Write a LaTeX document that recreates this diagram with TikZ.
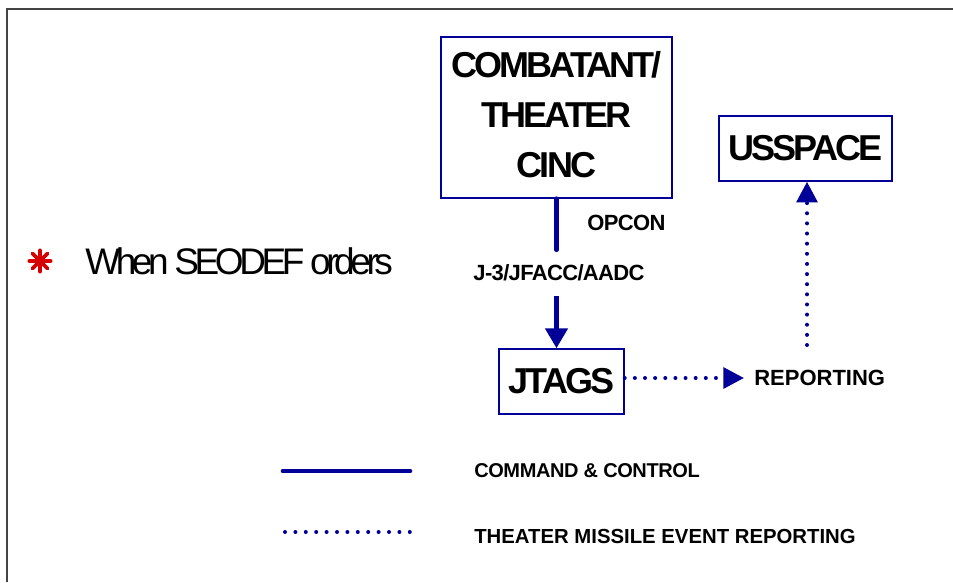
\documentclass[tikz,border=0pt]{standalone}
\usepackage{fontspec}
\setmainfont{Liberation Sans}
\newfontfamily\bigf{Liberation Sans}[LetterSpace=-8]
\newfontfamily\smallf{Liberation Sans}[LetterSpace=-3]
\newfontfamily\legf{Liberation Sans}[LetterSpace=-2]
\newfontfamily\whenf{Liberation Sans}[LetterSpace=-12]
\newfontfamily\repf{Liberation Sans}[LetterSpace=0]
\usetikzlibrary{arrows.meta,calc}
\definecolor{navy}{RGB}{0,0,153}
\definecolor{asterred}{RGB}{215,0,0}
\definecolor{framegray}{RGB}{68,68,68}
\begin{document}
\begin{tikzpicture}[x=0.75pt,y=-0.75pt,
  box/.style={draw=navy,line width=1.1pt,inner sep=0pt},
  bigtext/.style={font=\bigf\bfseries\fontsize{27pt}{37.5pt}\selectfont},
  smalltext/.style={font=\smallf\bfseries\fontsize{16.5pt}{20pt}\selectfont,inner sep=0pt},
  reptext/.style={font=\repf\bfseries\fontsize{16.5pt}{20pt}\selectfont,inner sep=0pt},
  legtext/.style={font=\legf\bfseries\fontsize{15pt}{18pt}\selectfont,inner sep=0pt,anchor=west},
  legtextb/.style={font=\repf\bfseries\fontsize{15.25pt}{18pt}\selectfont,inner sep=0pt,anchor=west},
  cmdline/.style={draw=navy,line width=3.5pt,line cap=round},
  rptline/.style={draw=navy,line width=3pt,line cap=round,dash pattern=on 0pt off 7.6pt},
  solidtip/.style={-{Triangle[length=15pt,width=16.5pt]}},
  dottip/.style={-{Triangle[length=15.5pt,width=15.5pt]}},
  framestyle/.style={draw=framegray,line width=1.5pt}
]
\useasboundingbox (0,0) rectangle (953,582);

% frame
\coordinate (ftl) at (7,9);
\coordinate (ftr) at (953,9);
\coordinate (fbl) at (7,582);
\draw[framestyle] (ftr) -- (ftl) -- (fbl);

% boxes
\node[box,bigtext,align=center,minimum width=173.25pt,minimum height=120.75pt]
  (cinc) at (556.5,117.5) {COMBATANT/\\THEATER\\CINC\rule[-4.5pt]{0pt}{0pt}};
\node[box,bigtext,minimum width=93.75pt,minimum height=48.75pt]
  (jtags) at (561.5,381.5) {JTAGS};
\node[box,bigtext,minimum width=129.75pt,minimum height=48.75pt]
  (usspace) at (805.5,148.5) {USSPACE};

% labels
\node[smalltext] (opcon) at (626.5,223) {OPCON};
\node[smalltext,text depth=0pt,minimum height=34.5pt] (j3) at (559,273) {J-3/JFACC/AADC};
\node[reptext,anchor=west] (rep) at (754,378) {REPORTING};

% command & control arrow
\draw[cmdline] (cinc.south) -- (cinc.south |- j3.north);
\draw[cmdline,solidtip,line cap=butt] (cinc.south |- j3.south) -- (cinc.south |- jtags.north);

% reporting arrows
\draw[rptline,dottip] (jtags.east |- rep.west) -- ([xshift=-7.5pt]rep.west);
\coordinate (vs) at (807,345);
\draw[rptline,dottip] (vs) -- (vs |- usspace.south);

% SECDEF note
\node[font=\whenf\fontsize{27.75pt}{32pt}\selectfont,inner sep=0pt,anchor=west]
  (when) at (85,261.5) {When SEODEF orders};
\coordinate (ast) at (40,261);
\foreach \a in {0,45,90,135}{
  \draw[asterred,line width=2.8pt,line cap=round] ($(ast)+(\a:8pt)$) -- ($(ast)+(\a+180:8pt)$);
}

% legend
\coordinate (la1) at (283,471);
\coordinate (la2) at (410,471);
\draw[cmdline] (la1) -- (la2);
\node[legtext] (leg1) at (474,471) {COMMAND \& CONTROL};
\coordinate (lb1) at (285,532);
\coordinate (lb2) at (410,532);
\draw[rptline,dash pattern=on 0pt off 7.8pt] (lb1) -- (lb2);
\node[legtextb] (leg2) at (474,536) {THEATER MISSILE EVENT REPORTING};
\end{tikzpicture}
\end{document}
